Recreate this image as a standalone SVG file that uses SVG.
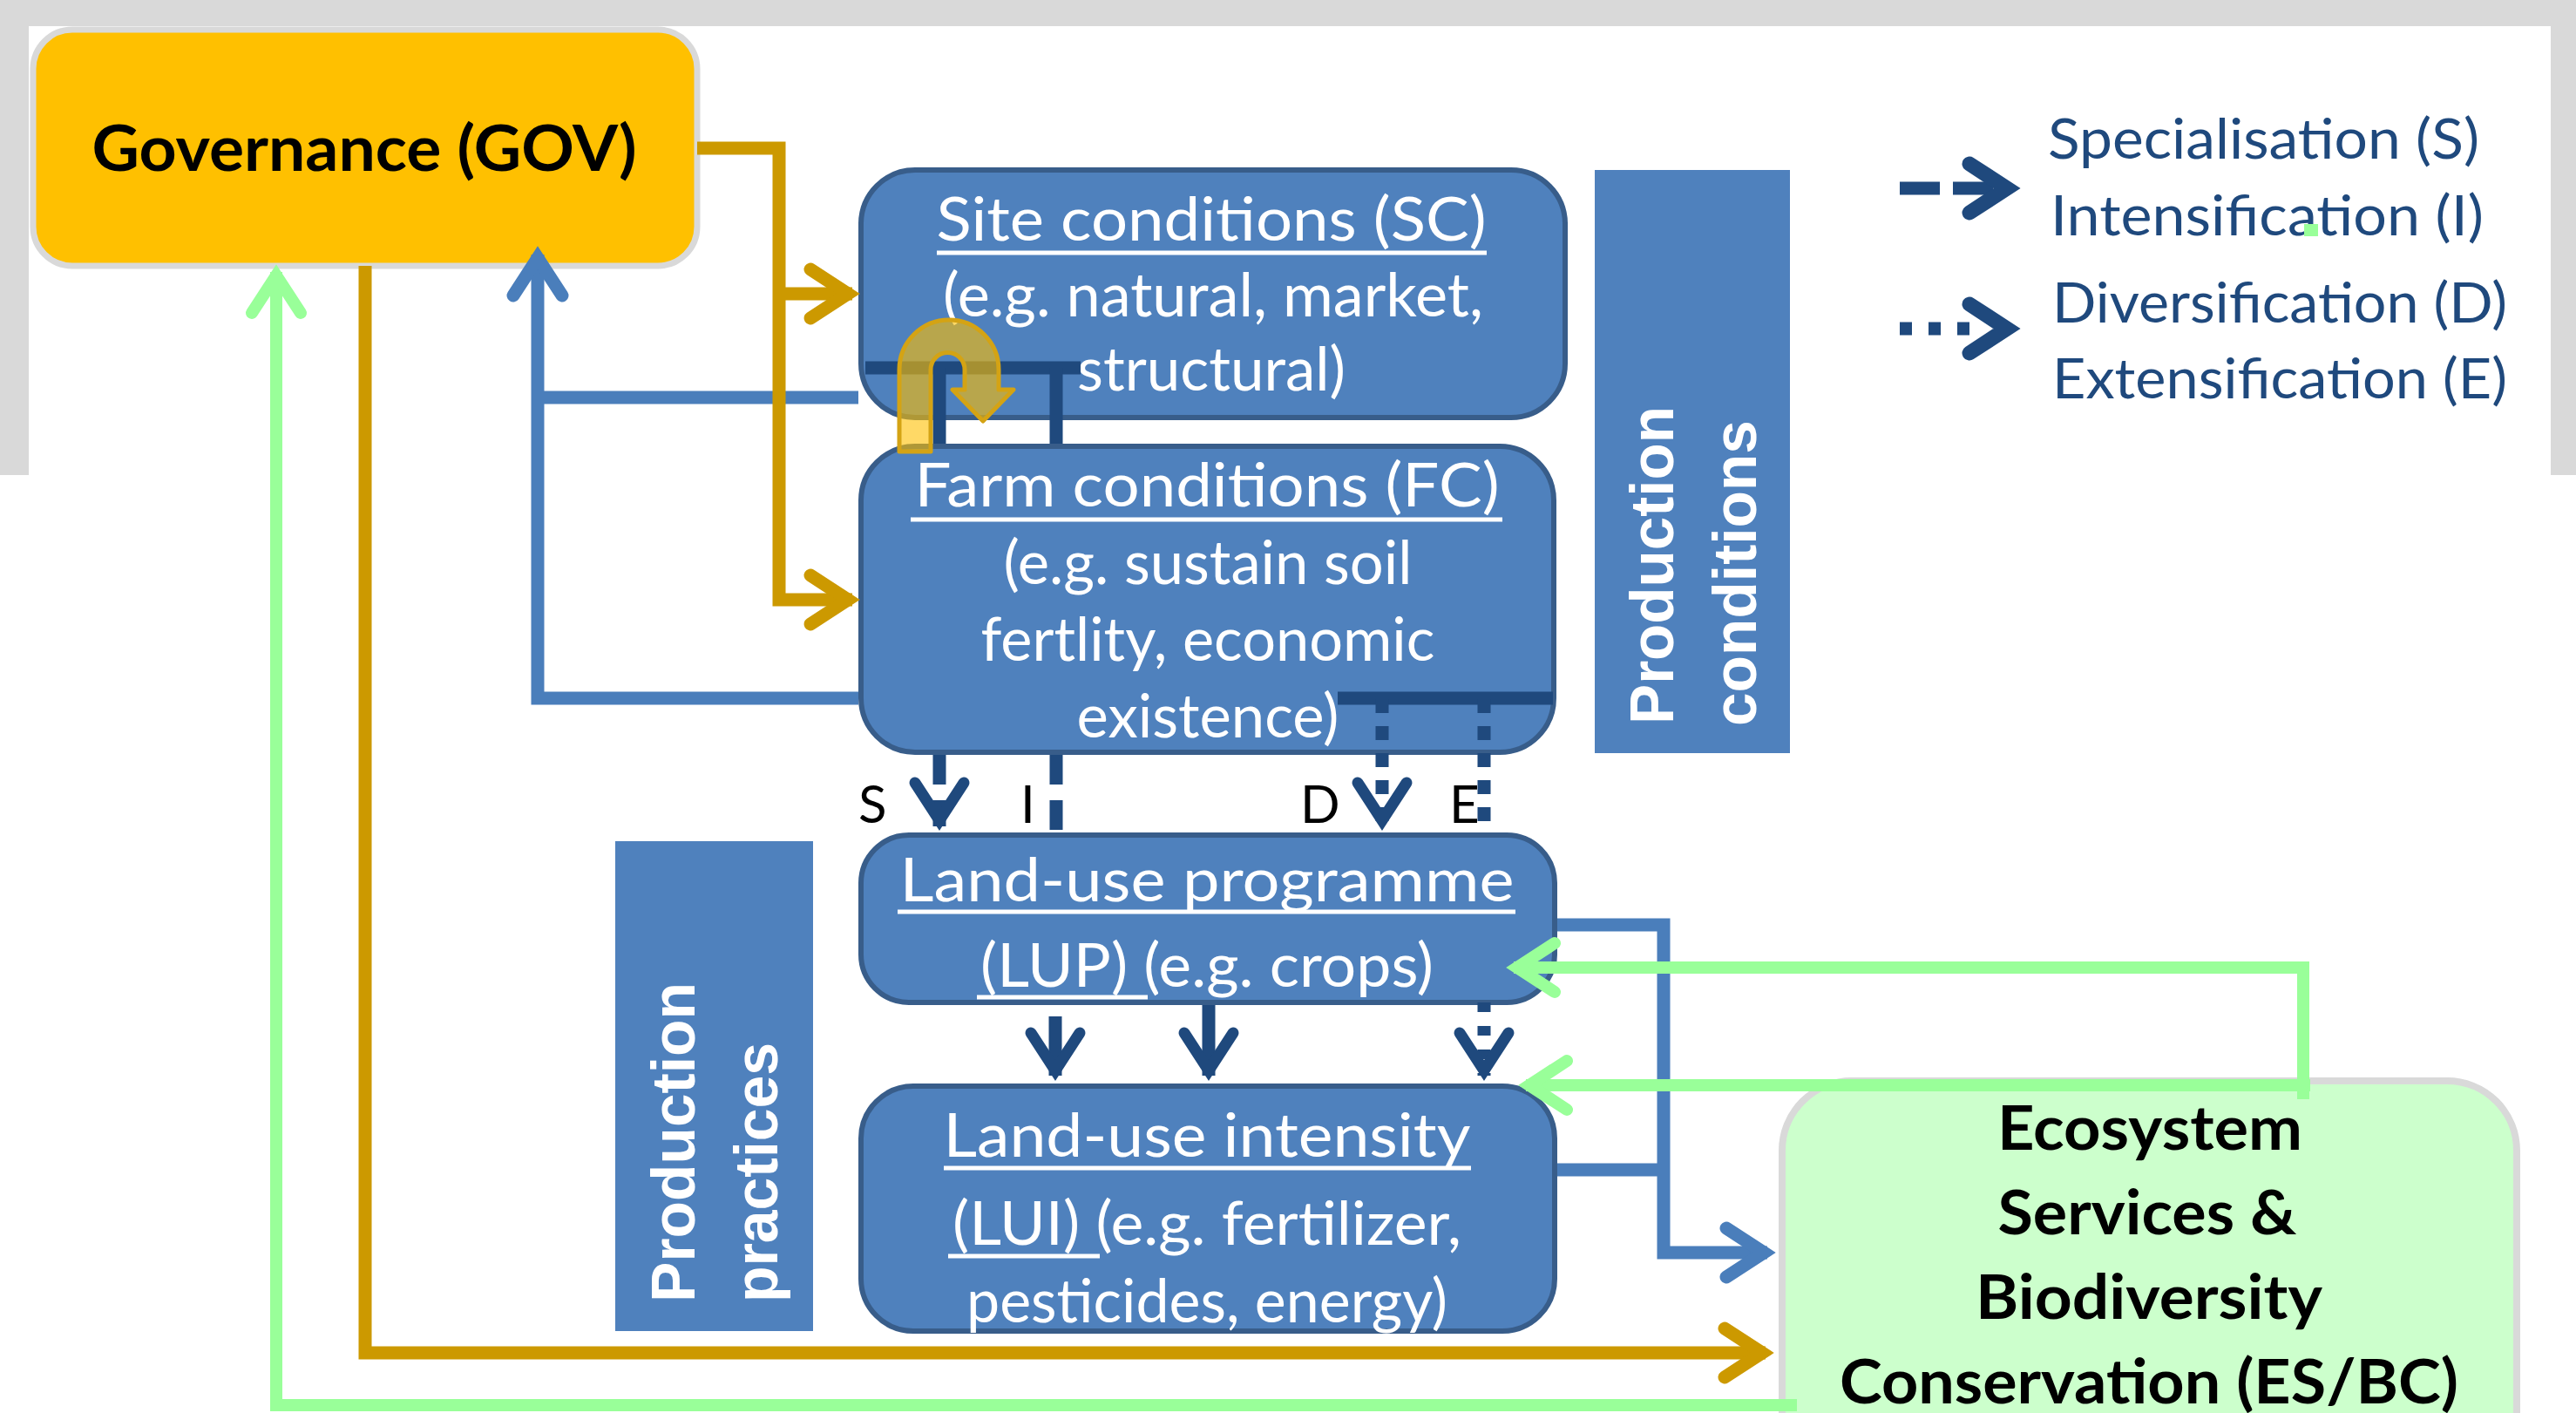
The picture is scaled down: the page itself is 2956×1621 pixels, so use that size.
<svg xmlns="http://www.w3.org/2000/svg" xmlns:xlink="http://www.w3.org/1999/xlink" width="2956" height="1621" viewBox="0 0 2956 1621">
<style>
.bg{fill:#D9D9D9}
.box{fill:#4F81BD;stroke:#385D8A;stroke-width:6}
.band{fill:#4F81BD}
.bt{font-family:Lato,"Open Sans",sans-serif;font-size:70px;fill:#FFFFFF}
.ul{stroke:#FFFFFF;stroke-width:5}
.bold{font-family:Lato,"Open Sans",sans-serif;font-weight:bold;fill:#000000}
.rot{font-family:"Liberation Sans",Arial,sans-serif;font-weight:bold;font-size:70px;fill:#FFFFFF}
.leg{font-family:Lato,"Open Sans",sans-serif;font-size:64px;fill:#1F497D}
.lbl{font-family:Lato,"Open Sans",sans-serif;font-size:60px;fill:#000000}
.gold{fill:none;stroke:#CC9900;stroke-width:15}
.blue{fill:none;stroke:#4A7EBB;stroke-width:15}
.green{fill:none;stroke:#99FF99;stroke-width:14}
.dk{fill:none;stroke:#1F497D;stroke-width:15}
.dash{stroke-dasharray:34 18}
.dot{stroke-dasharray:16 15}
.ch-gold{stroke:#CC9900;stroke-width:15}
.ch-blue{stroke:#4A7EBB;stroke-width:15}
.ch-green{stroke:#99FF99;stroke-width:14}
.ch-dk{stroke:#1F497D;stroke-width:13}
.ch-leg{stroke:#1F497D;stroke-width:17}
</style>
<defs>
<path id="chev" d="M-57,-28 L-14,0 L-57,28" fill="none" stroke-linejoin="miter" stroke-linecap="round"/>
</defs>

<g id="background">
<rect x="0" y="0" width="2956" height="1621" fill="#FFFFFF"/>
<rect class="bg" x="0" y="0" width="2956" height="30"/>
<rect class="bg" x="0" y="0" width="33" height="545"/>
<rect class="bg" x="2927" y="0" width="29" height="545"/>
</g>

<g id="gov">
<rect x="38" y="34" width="762" height="271" rx="45" fill="#FFC000" stroke="#D9D9D9" stroke-width="7"/>
<text class="bold" x="418" y="196" font-size="72" text-anchor="middle" textLength="625" lengthAdjust="spacingAndGlyphs">Governance (GOV)</text>
</g>

<g id="sc">
<rect class="box" x="988" y="195" width="808" height="284" rx="62"/>
<text class="bt" x="1390" y="276" text-anchor="middle" textLength="631" lengthAdjust="spacingAndGlyphs">Site conditions (SC)</text>
<line class="ul" x1="1075" y1="290" x2="1706" y2="290"/>
<text class="bt" x="1392" y="363" text-anchor="middle" textLength="620" lengthAdjust="spacingAndGlyphs">(e.g. natural, market,</text>
<text class="bt" x="1390" y="448" text-anchor="middle" textLength="308" lengthAdjust="spacingAndGlyphs">structural)</text>
</g>

<g id="fc">
<rect class="box" x="988" y="512" width="795" height="351" rx="62"/>
<text class="bt" x="1385" y="581" text-anchor="middle" textLength="671" lengthAdjust="spacingAndGlyphs">Farm conditions (FC)</text>
<line class="ul" x1="1045" y1="596" x2="1724" y2="596"/>
<text class="bt" x="1386" y="670" text-anchor="middle" textLength="469" lengthAdjust="spacingAndGlyphs">(e.g. sustain soil</text>
<text class="bt" x="1386" y="758" text-anchor="middle" textLength="521" lengthAdjust="spacingAndGlyphs">fertlity, economic</text>
<text class="bt" x="1386" y="846" text-anchor="middle" textLength="301" lengthAdjust="spacingAndGlyphs">existence)</text>
</g>

<g id="lup">
<rect class="box" x="988" y="958" width="796" height="192" rx="55"/>
<text class="bt" x="1385" y="1034" text-anchor="middle" textLength="705" lengthAdjust="spacingAndGlyphs">Land-use programme</text>
<line class="ul" x1="1030" y1="1046" x2="1739" y2="1046"/>
<text class="bt" x="1385" y="1132" text-anchor="middle" textLength="520" lengthAdjust="spacingAndGlyphs">(LUP) (e.g. crops)</text>
<line class="ul" x1="1121" y1="1144" x2="1317" y2="1144"/>
</g>

<g id="lui">
<rect class="box" x="988" y="1246" width="796" height="281" rx="60"/>
<text class="bt" x="1385" y="1327" text-anchor="middle" textLength="605" lengthAdjust="spacingAndGlyphs">Land-use intensity</text>
<line class="ul" x1="1083" y1="1340" x2="1688" y2="1340"/>
<text class="bt" x="1385" y="1428" text-anchor="middle" textLength="584" lengthAdjust="spacingAndGlyphs">(LUI) (e.g. fertilizer,</text>
<line class="ul" x1="1088" y1="1441" x2="1262" y2="1441"/>
<text class="bt" x="1385" y="1517" text-anchor="middle" textLength="552" lengthAdjust="spacingAndGlyphs">pesticides, energy)</text>
</g>

<g id="production-conditions">
<rect class="band" x="1830" y="195" width="224" height="669"/>
<text class="rot" x="1920" y="831" transform="rotate(-90 1920 831)" textLength="365" lengthAdjust="spacingAndGlyphs">Production</text>
<text class="rot" x="2015" y="833" transform="rotate(-90 2015 833)" textLength="351" lengthAdjust="spacingAndGlyphs">conditions</text>
</g>

<g id="production-practices">
<rect class="band" x="706" y="965" width="227" height="562"/>
<text class="rot" x="797" y="1494" transform="rotate(-90 797 1494)" textLength="367" lengthAdjust="spacingAndGlyphs">Production</text>
<text class="rot" x="892" y="1494" transform="rotate(-90 892 1494)" textLength="298" lengthAdjust="spacingAndGlyphs">practices</text>
</g>

<g id="es-bc">
<rect x="2045" y="1240" width="843" height="460" rx="80" fill="#CCFFCC" stroke="#D9D9D9" stroke-width="8"/>
<text class="bold" x="2467" y="1319" font-size="70" text-anchor="middle" textLength="350" lengthAdjust="spacingAndGlyphs">Ecosystem</text>
<text class="bold" x="2464" y="1416" font-size="70" text-anchor="middle" textLength="343" lengthAdjust="spacingAndGlyphs">Services &amp;</text>
<text class="bold" x="2466" y="1513" font-size="70" text-anchor="middle" textLength="398" lengthAdjust="spacingAndGlyphs">Biodiversity</text>
<text class="bold" x="2466" y="1610" font-size="70" text-anchor="middle" textLength="710" lengthAdjust="spacingAndGlyphs">Conservation (ES/BC)</text>
</g>

<g id="legend">
<path class="dk" d="M2180,216 H2300" stroke-width="13" stroke-dasharray="46 15"/>
<use xlink:href="#chev" class="ch-leg" transform="translate(2317,216)"/>
<path class="dk" d="M2180,377 H2262" stroke-width="14" stroke-dasharray="14 19"/>
<use xlink:href="#chev" class="ch-leg" transform="translate(2317,377)"/>
<text class="leg" x="2350" y="182" textLength="495" lengthAdjust="spacingAndGlyphs">Specialisation (S)</text>
<text class="leg" x="2353" y="270" textLength="497" lengthAdjust="spacingAndGlyphs">Intensification (I)</text>
<text class="leg" x="2355" y="370" textLength="522" lengthAdjust="spacingAndGlyphs">Diversification (D)</text>
<text class="leg" x="2355" y="457" textLength="522" lengthAdjust="spacingAndGlyphs">Extensification (E)</text>
<rect x="2644" y="257" width="16" height="14" fill="#99FF99"/>
</g>

<g id="connectors">
<!-- blue feedback to GOV -->
<path class="blue" d="M985,801 H617 V292"/>
<path class="blue" d="M985,456 H617"/>
<use xlink:href="#chev" class="ch-blue" transform="translate(617,282) rotate(-90)"/>
<!-- gold GOV to SC / FC -->
<path class="gold" d="M800,170 H894 V688 H978"/>
<path class="gold" d="M894,337 H978"/>
<use xlink:href="#chev" class="ch-gold" transform="translate(987,337)"/>
<use xlink:href="#chev" class="ch-gold" transform="translate(987,688)"/>
<!-- gold GOV to ES/BC -->
<path class="gold" d="M419,305 V1552 H2026"/>
<use xlink:href="#chev" class="ch-gold" transform="translate(2036,1552)"/>
<!-- green ES/BC to GOV -->
<path class="green" d="M2062,1612 H317 V312"/>
<use xlink:href="#chev" class="ch-green" transform="translate(317,302) rotate(-90)"/>
<!-- blue LUP/LUI to ES/BC -->
<path class="blue" d="M1787,1061 H1909 V1437 H2028"/>
<path class="blue" d="M1787,1342 H1909"/>
<use xlink:href="#chev" class="ch-blue" transform="translate(2038,1437)"/>
<!-- green ES/BC to LUP / LUI -->
<path class="green" d="M2643,1261 V1110 H1737"/>
<path class="green" d="M2651,1245 H1751"/>
<use xlink:href="#chev" class="ch-green" transform="translate(1727,1110) rotate(180)"/>
<use xlink:href="#chev" class="ch-green" transform="translate(1741,1245) rotate(180)"/>
<!-- SC to FC T-bar -->
<path class="dk" d="M993,422 H1240" stroke-width="10"/>
<path class="dk" d="M1078,422 V509 M1212,422 V509"/>
<!-- FC to LUP -->
<path class="dk" d="M1535,801 H1782" stroke-width="11"/>
<path class="dk dot" d="M1586,802 V950"/>
<path class="dk dot" d="M1703,802 V955"/>
<use xlink:href="#chev" class="ch-dk" transform="translate(1586,955) rotate(90)"/>
<path class="dk dash" d="M1078,866 V948"/>
<path class="dk dash" d="M1212,866 V955"/>
<use xlink:href="#chev" class="ch-dk" transform="translate(1078,955) rotate(90)"/>
<!-- LUP to LUI -->
<path class="dk" d="M1211,1166 V1234"/>
<path class="dk" d="M1387,1153 V1234"/>
<path class="dk" d="M1703,1150 V1234" stroke-dasharray="11 16"/>
<use xlink:href="#chev" class="ch-dk" transform="translate(1211,1242) rotate(90)"/>
<use xlink:href="#chev" class="ch-dk" transform="translate(1387,1242) rotate(90)"/>
<use xlink:href="#chev" class="ch-dk" transform="translate(1703,1242) rotate(90)"/>
<!-- U-turn arrow -->
<path d="M1032,518 L1032,424 A57,57 0 0 1 1146,424 L1146,447 L1163,447 L1128,483 L1093,447 L1107,447 L1107,424 A19.5,19.5 0 0 0 1068,424 L1068,518 Z" fill="#FFC000" fill-opacity="0.6" stroke="#D4A314" stroke-width="5" stroke-linejoin="round"/>
</g>

<g id="labels">
<text class="lbl" x="985" y="944">S</text>
<text class="lbl" x="1171" y="944">I</text>
<text class="lbl" x="1492" y="944">D</text>
<text class="lbl" x="1663" y="944">E</text>
</g>
</svg>
